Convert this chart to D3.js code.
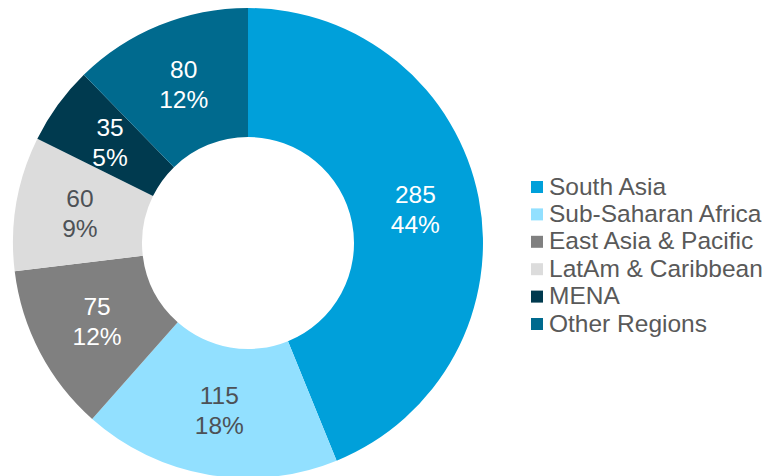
<!DOCTYPE html>
<html>
<head>
<meta charset="utf-8">
<script src="https://cdn.jsdelivr.net/npm/d3@7"></script>
<style>
  body { margin: 0; background: #fff; }
  svg text { font-family: "Liberation Sans", Arial, sans-serif; }
</style>
</head>
<body>
<svg width="776" height="476"></svg>
<script>
var regions = ["South Asia", "Sub-Saharan Africa", "East Asia & Pacific", "LatAm & Caribbean", "MENA", "Other Regions"];
var values = [285, 115, 75, 60, 35, 80];
var colors = ["#00A0DA", "#92E0FF", "#808080", "#DCDCDC", "#003A4F", "#006A8E"];
var labelColors = ["#fff", "#4d5156", "#fff", "#4d5156", "#fff", "#fff"];

var svg = d3.select("svg"),
    cx = 248, cy = 243,
    outerR = 235, innerR = 106;

var total = d3.sum(values);

var data = regions.map(function(r, i) {
  return { region: r, value: values[i], color: colors[i], labelColor: labelColors[i] };
});

var pie = d3.pie()
    .sort(null)
    .value(function(d) { return d.value; });

var arc = d3.arc()
    .innerRadius(innerR)
    .outerRadius(outerR);

var g = svg.append("g")
    .attr("transform", "translate(" + cx + "," + cy + ")");

var slices = g.selectAll(".slice")
    .data(pie(data))
    .enter()
    .append("g")
    .attr("class", "slice");

slices.append("path")
    .attr("d", arc)
    .attr("fill", function(d) { return d.data.color; });

var labels = slices.append("text")
    .attr("text-anchor", "middle")
    .attr("font-size", "24.5px")
    .attr("fill", function(d) { return d.data.labelColor; })
    .attr("transform", function(d) {
      var c = arc.centroid(d);
      return "translate(" + c[0] + "," + c[1] + ")";
    });

labels.append("tspan")
    .attr("x", 0)
    .attr("y", -7)
    .text(function(d) { return d.data.value; });

labels.append("tspan")
    .attr("x", 0)
    .attr("y", 23)
    .text(function(d) { return Math.round(d.data.value / total * 100) + "%"; });

// legend
var legend = svg.append("g")
    .attr("class", "legend")
    .selectAll(".lnode")
    .data(data)
    .enter()
    .append("g")
    .attr("class", "lnode")
    .attr("transform", function(d, i) {
      return "translate(531," + (181 + i * 27.4) + ")";
    });

legend.append("rect")
    .attr("width", 12)
    .attr("height", 12)
    .attr("fill", function(d) { return d.color; });

legend.append("text")
    .attr("x", 18)
    .attr("y", 13.5)
    .attr("font-size", "24.5px")
    .attr("fill", "#595959")
    .text(function(d) { return d.region; });
</script>
</body>
</html>
